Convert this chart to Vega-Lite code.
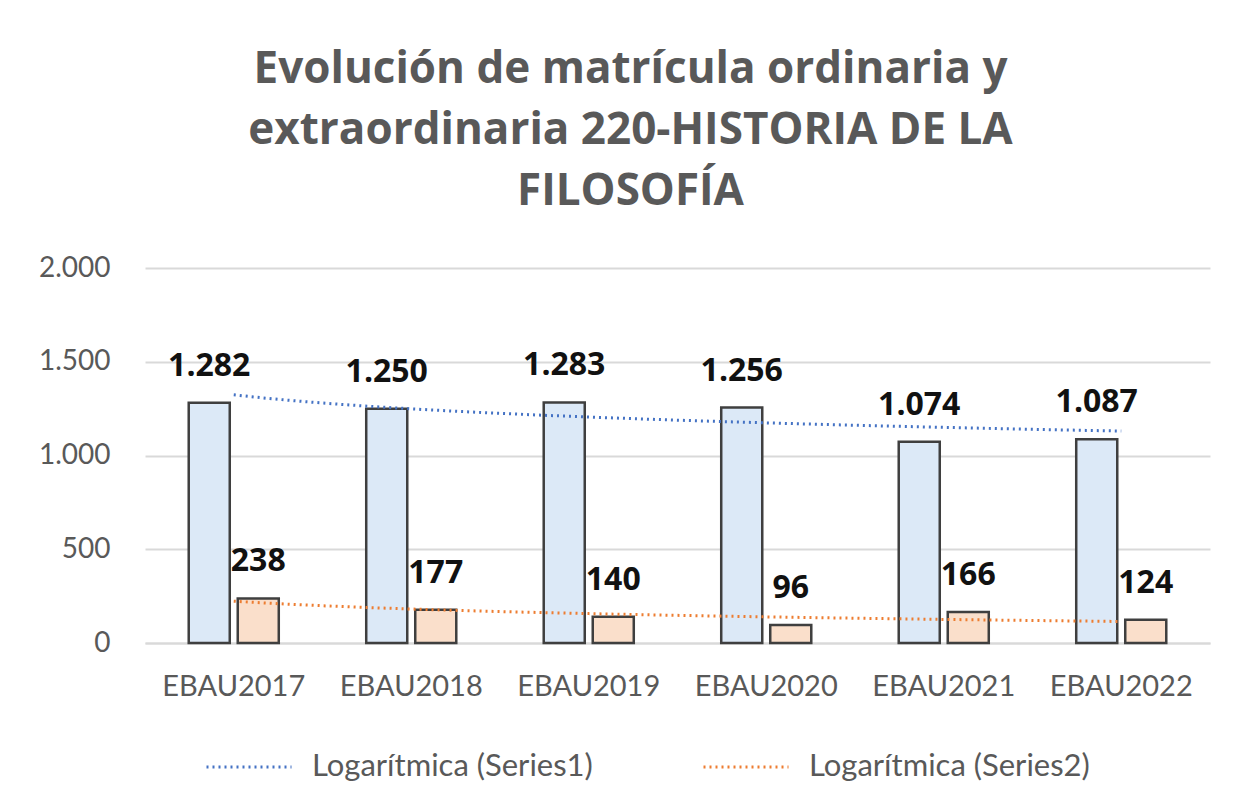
{
  "$schema": "https://vega.github.io/schema/vega-lite/v6.json",
  "autosize": {"type": "none"},
  "width": 1065,
  "height": 375,
  "padding": {"left": 145, "top": 268, "right": 43, "bottom": 164},
  "background": "white",
  "title": {
    "text": ["Evolución de matrícula ordinaria y", "extraordinaria 220-HISTORIA DE LA", "FILOSOFÍA"],
    "font": "Open Sans",
    "fontSize": 44,
    "fontWeight": "bold",
    "color": "#595959",
    "lineHeight": 61,
    "anchor": "middle",
    "frame": "group",
    "dx": -47,
    "offset": 40
  },
  "data": {
    "values": [
      {"cat": "EBAU2017", "n": 1, "series": "Series1", "trend": "Logarítmica (Series1)", "value": 1282},
      {"cat": "EBAU2017", "n": 1, "series": "Series2", "trend": "Logarítmica (Series2)", "value": 238},
      {"cat": "EBAU2018", "n": 2, "series": "Series1", "trend": "Logarítmica (Series1)", "value": 1250},
      {"cat": "EBAU2018", "n": 2, "series": "Series2", "trend": "Logarítmica (Series2)", "value": 177},
      {"cat": "EBAU2019", "n": 3, "series": "Series1", "trend": "Logarítmica (Series1)", "value": 1283},
      {"cat": "EBAU2019", "n": 3, "series": "Series2", "trend": "Logarítmica (Series2)", "value": 140},
      {"cat": "EBAU2020", "n": 4, "series": "Series1", "trend": "Logarítmica (Series1)", "value": 1256},
      {"cat": "EBAU2020", "n": 4, "series": "Series2", "trend": "Logarítmica (Series2)", "value": 96},
      {"cat": "EBAU2021", "n": 5, "series": "Series1", "trend": "Logarítmica (Series1)", "value": 1074},
      {"cat": "EBAU2021", "n": 5, "series": "Series2", "trend": "Logarítmica (Series2)", "value": 166},
      {"cat": "EBAU2022", "n": 6, "series": "Series1", "trend": "Logarítmica (Series1)", "value": 1087},
      {"cat": "EBAU2022", "n": 6, "series": "Series2", "trend": "Logarítmica (Series2)", "value": 124}
    ]
  },
  "layer": [
    {
      "mark": {"type": "bar", "stroke": "#3f3f3f", "strokeWidth": 2.5},
      "encoding": {
        "x": {
          "field": "cat", "type": "nominal", "sort": null,
          "scale": {"paddingInner": 0, "paddingOuter": 0},
          "axis": {
            "title": null, "labelAngle": 0, "labelFont": "Lato", "labelFontSize": 29,
            "labelColor": "#595959", "labelPadding": 29, "ticks": false,
            "domain": true, "domainColor": "#d9d9d9", "domainWidth": 2, "grid": false
          }
        },
        "xOffset": {
          "field": "series", "type": "nominal",
          "scale": {"paddingInner": 0.163, "paddingOuter": 0.892}
        },
        "y": {
          "field": "value", "type": "quantitative",
          "scale": {"domain": [0, 2000]},
          "axis": {
            "title": null, "values": [0, 500, 1000, 1500, 2000], "format": ",d",
            "labelFont": "Lato", "labelFontSize": 28, "labelColor": "#595959",
            "labelPadding": 35, "ticks": false, "domain": false,
            "grid": true, "gridColor": "#d9d9d9", "gridWidth": 2
          }
        },
        "fill": {
          "field": "series", "type": "nominal",
          "scale": {"domain": ["Series1", "Series2"], "range": ["#DCE9F7", "#FADFCB"]},
          "legend": null
        }
      }
    },
    {
      "mark": {"type": "text", "font": "Open Sans", "fontSize": 32, "fontWeight": "bold", "color": "#111111", "baseline": "alphabetic", "dy": -27},
      "encoding": {
        "x": {"field": "cat", "type": "nominal", "sort": null, "scale": {"paddingInner": 0, "paddingOuter": 0}, "axis": null},
        "xOffset": {"field": "series", "type": "nominal", "scale": {"paddingInner": 0.163, "paddingOuter": 0.892}},
        "y": {"field": "value", "type": "quantitative"},
        "text": {"field": "value", "type": "quantitative", "format": ",d"}
      }
    },
    {
      "transform": [
        {"regression": "value", "on": "n", "groupby": ["trend"], "method": "log"}
      ],
      "mark": {"type": "line", "strokeDash": [2, 4], "strokeWidth": 3},
      "encoding": {
        "x": {"field": "n", "type": "quantitative", "scale": {"domain": [0.5, 6.5], "nice": false, "zero": false}, "axis": null},
        "y": {"field": "value", "type": "quantitative"},
        "stroke": {
          "field": "trend", "type": "nominal",
          "scale": {"domain": ["Logarítmica (Series1)", "Logarítmica (Series2)"], "range": ["#4472C4", "#ED7D31"]},
          "legend": {
            "title": null, "orient": "none", "legendX": 60, "legendY": 455,
            "direction": "horizontal", "symbolType": "stroke", "symbolSize": 7225,
            "symbolStrokeWidth": 3, "symbolDash": [2, 4],
            "labelFont": "Lato", "labelFontSize": 31, "labelColor": "#595959",
            "labelOffset": 19, "columnPadding": 104, "labelLimit": 400
          }
        }
      }
    }
  ],
  "resolve": {"scale": {"x": "independent"}},
  "config": {
    "view": {"stroke": null},
    "locale": {"number": {"decimal": ",", "thousands": ".", "grouping": [3], "currency": ["", " €"]}}
  }
}
